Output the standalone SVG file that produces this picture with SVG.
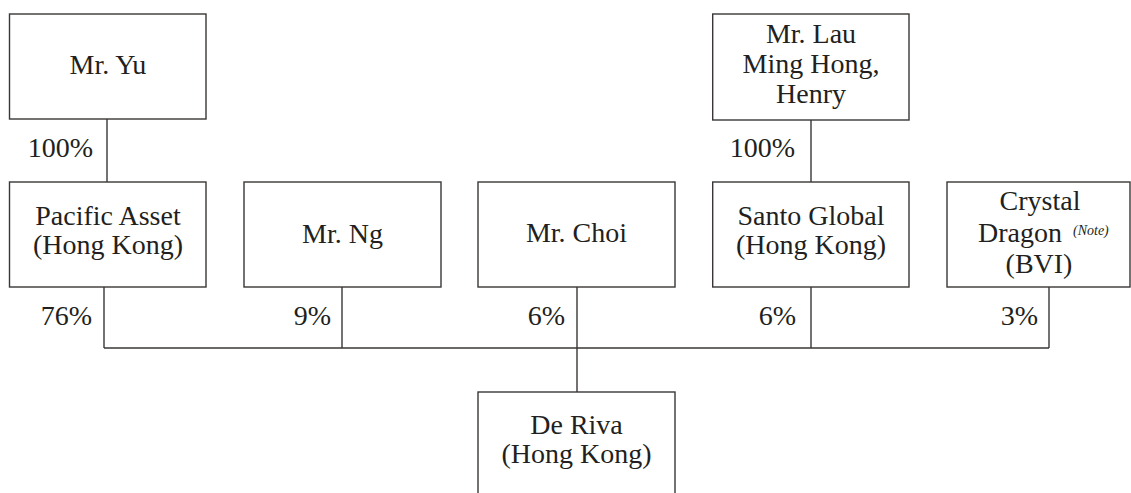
<svg xmlns="http://www.w3.org/2000/svg" width="1131" height="493" viewBox="0 0 1131 493">
<style>
rect.box{fill:#fff;stroke:#3a3636;stroke-width:1.4}
.conn line{stroke:#3a3636;stroke-width:1.4}
text{font-family:"Liberation Serif","Times New Roman",serif;font-size:28px;fill:#231f20}
.c{text-anchor:middle}
.p{text-anchor:end}
.note{font-size:14px;font-style:italic}
</style>
<rect width="1131" height="493" fill="#fff"/>
<g id="connectors" class="conn">
<line x1="107" y1="119" x2="107" y2="182"/>
<line x1="811" y1="120" x2="811" y2="182"/>
<line x1="104" y1="287" x2="104" y2="348"/>
<line x1="342" y1="287" x2="342" y2="348"/>
<line x1="577" y1="287" x2="577" y2="392"/>
<line x1="811" y1="287" x2="811" y2="348"/>
<line x1="1049" y1="287" x2="1049" y2="348"/>
<line x1="104" y1="348" x2="1049" y2="348"/>
</g>
<g id="labels">
<text class="p" x="93" y="157">100%</text>
<text class="p" x="795" y="157">100%</text>
<text class="p" x="92" y="325">76%</text>
<text class="p" x="331" y="325">9%</text>
<text class="p" x="565" y="325">6%</text>
<text class="p" x="796" y="325">6%</text>
<text class="p" x="1038" y="325">3%</text>
</g>
<g id="mr-yu">
<rect class="box" x="9.5" y="14" width="196.5" height="105"/>
<text class="c" x="108" y="74">Mr. Yu</text>
</g>
<g id="mr-lau">
<rect class="box" x="712.7" y="14" width="196.3" height="106"/>
<text class="c" x="811" y="43">Mr. Lau</text>
<text class="c" x="811" y="73">Ming Hong,</text>
<text class="c" x="811" y="103">Henry</text>
</g>
<g id="pacific-asset">
<rect class="box" x="9.5" y="182" width="196.5" height="105"/>
<text class="c" x="108" y="225">Pacific Asset</text>
<text class="c" x="108" y="254">(Hong Kong)</text>
</g>
<g id="mr-ng">
<rect class="box" x="244" y="182" width="197" height="105"/>
<text class="c" x="342.5" y="243">Mr. Ng</text>
</g>
<g id="mr-choi">
<rect class="box" x="478" y="182" width="197" height="105"/>
<text class="c" x="576.5" y="242">Mr. Choi</text>
</g>
<g id="santo-global">
<rect class="box" x="712.7" y="182" width="196.3" height="105"/>
<text class="c" x="811" y="225">Santo Global</text>
<text class="c" x="811" y="254">(Hong Kong)</text>
</g>
<g id="crystal-dragon">
<rect class="box" x="947" y="182" width="183" height="105"/>
<text class="c" x="1040" y="210">Crystal</text>
<text x="978" y="242">Dragon</text>
<text class="note" x="1073" y="235">(Note)</text>
<text class="c" x="1039" y="273">(BVI)</text>
</g>
<g id="de-riva">
<rect class="box" x="478" y="392" width="197" height="120"/>
<text class="c" x="576.5" y="434">De Riva</text>
<text class="c" x="576.5" y="463">(Hong Kong)</text>
</g>
</svg>
